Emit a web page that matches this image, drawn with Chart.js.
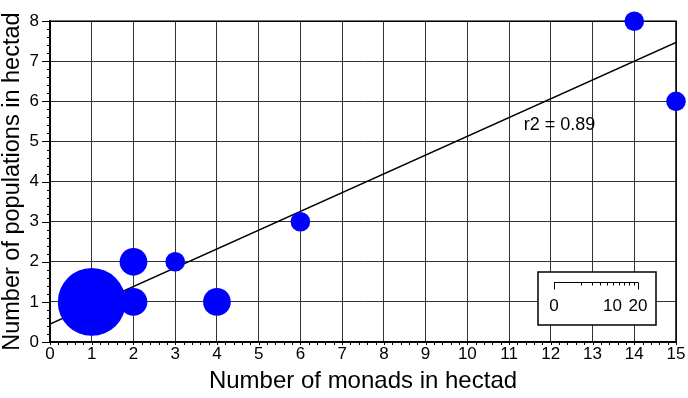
<!DOCTYPE html>
<html>
<head>
<meta charset="utf-8">
<script src="https://cdn.jsdelivr.net/npm/chart.js@4/dist/chart.umd.min.js"></script>
<style>
  body { margin: 0; background: #fff; }
  #wrap { width: 688px; height: 398px; }
</style>
</head>
<body>
<div id="wrap"><canvas id="chart"></canvas></div>
<script>
// values
const monads = [1, 2, 2, 3, 4, 6, 14, 15];
const populations = [1, 2, 1, 2, 1, 3, 8, 6];
const hectadCounts = [12, 2, 2, 1, 2, 1, 1, 1]; // bubble size values
const fitX = [0, 15];
const fitY = [0.45, 7.47];
const fitLabel = 'r2 = 0.89';
const fitLabelAt = [11.35, 5.41];
const legendTicks = [0, 10, 20];
const legendMax = 20;

const FONT = '"Liberation Sans", Arial, Helvetica, sans-serif';
const bubbleScale = 9.8; // px radius per sqrt(count)

const bubbles = monads.map((x, i) => ({ x: x, y: populations[i], r: bubbleScale * Math.sqrt(hectadCounts[i]) }));
const fitLine = fitX.map((x, i) => ({ x: x, y: fitY[i] }));

// frame, minor ticks, r2 label, size legend
const extras = {
  id: 'extras',
  beforeDatasetsDraw(chart) {
    const ctx = chart.ctx;
    const a = chart.chartArea;
    const xs = chart.scales.x, ys = chart.scales.y;
    ctx.save();
    ctx.strokeStyle = '#000';
    ctx.lineWidth = 1.5;
    ctx.strokeRect(a.left, a.top, a.right - a.left, a.bottom - a.top);

    ctx.lineWidth = 1;
    ctx.beginPath();
    for (let v = 0; v <= 15.001; v += 0.2) {
      const px = Math.round(xs.getPixelForValue(v)) + 0.5;
      ctx.moveTo(px, a.bottom);
      ctx.lineTo(px, a.bottom + 3);
    }
    for (let v = 0; v <= 8.001; v += 0.2) {
      const py = Math.round(ys.getPixelForValue(v)) + 0.5;
      const major = Math.abs(v - Math.round(v)) < 0.01;
      ctx.moveTo(a.left, py);
      ctx.lineTo(a.left - (major ? 8 : 3), py);
    }
    ctx.stroke();
    ctx.restore();
  },
  afterDraw(chart) {
    const ctx = chart.ctx;
    const xs = chart.scales.x, ys = chart.scales.y;
    ctx.save();
    ctx.fillStyle = '#000';
    ctx.font = '18px ' + FONT;
    ctx.textAlign = 'left';
    ctx.textBaseline = 'middle';
    ctx.fillText(fitLabel, xs.getPixelForValue(fitLabelAt[0]), ys.getPixelForValue(fitLabelAt[1]));

    // size legend box
    const bx = 538, by = 272, bw = 118, bh = 53;
    ctx.fillStyle = '#fff';
    ctx.fillRect(bx, by, bw, bh);
    ctx.strokeStyle = '#000';
    ctx.lineWidth = 1.5;
    ctx.strokeRect(bx, by, bw, bh);

    const x0 = 554, len = 84, ly = 282.5;
    const pos = n => x0 + Math.sqrt(n / legendMax) * len;
    ctx.lineWidth = 1;
    ctx.beginPath();
    ctx.moveTo(x0, ly);
    ctx.lineTo(x0 + len, ly);
    for (let n = 0; n <= legendMax; n += 2) {
      const px = Math.round(pos(n)) + 0.5;
      const end = (n === 0 || n === legendMax);
      ctx.moveTo(px, ly);
      ctx.lineTo(px, ly + (end ? 7 : 3));
    }
    ctx.stroke();
    ctx.fillStyle = '#000';
    ctx.font = '17px ' + FONT;
    ctx.textAlign = 'center';
    legendTicks.forEach(n => ctx.fillText(String(n), pos(n) - (n === 10 ? 1 : 0), 306));
    ctx.restore();
  }
};

new Chart(document.getElementById('chart'), {
  type: 'bubble',
  data: {
    datasets: [
      {
        data: bubbles,
        backgroundColor: '#0000ff',
        borderWidth: 0,
        hoverBorderWidth: 0,
        clip: false,
        order: 0
      },
      {
        type: 'line',
        data: fitLine,
        borderColor: '#000',
        borderWidth: 1.5,
        pointRadius: 0,
        fill: false,
        order: 1
      }
    ]
  },
  options: {
    responsive: true,
    maintainAspectRatio: false,
    animation: false,
    layout: { autoPadding: false, padding: { top: 13, right: 12, left: 0, bottom: 0 } },
    plugins: { legend: { display: false }, tooltip: { enabled: false } },
    scales: {
      x: {
        type: 'linear',
        min: 0,
        max: 15,
        ticks: { stepSize: 1, color: '#000', font: { family: FONT, size: 17 }, padding: 2, maxRotation: 0 },
        grid: { color: '#333', lineWidth: 1, drawTicks: false },
        border: { color: '#000', width: 1.5 },
        title: { display: true, text: 'Number of monads in hectad', color: '#000', font: { family: FONT, size: 24, lineHeight: 1.2 }, padding: { top: 0, bottom: 2 } },
        afterFit(scale) { scale.height = 56; }
      },
      y: {
        type: 'linear',
        min: 0,
        max: 8,
        ticks: { stepSize: 1, color: '#000', font: { family: FONT, size: 17 }, padding: 11 },
        grid: { color: '#333', lineWidth: 1, drawTicks: false },
        border: { color: '#000', width: 1.5 },
        title: { display: true, text: 'Number of populations in hectad', color: '#000', font: { family: FONT, size: 23.5, lineHeight: 1 }, padding: { top: 1, bottom: 0 } },
        afterFit(scale) { scale.width = 50; }
      }
    }
  },
  plugins: [extras]
});
</script>
</body>
</html>
